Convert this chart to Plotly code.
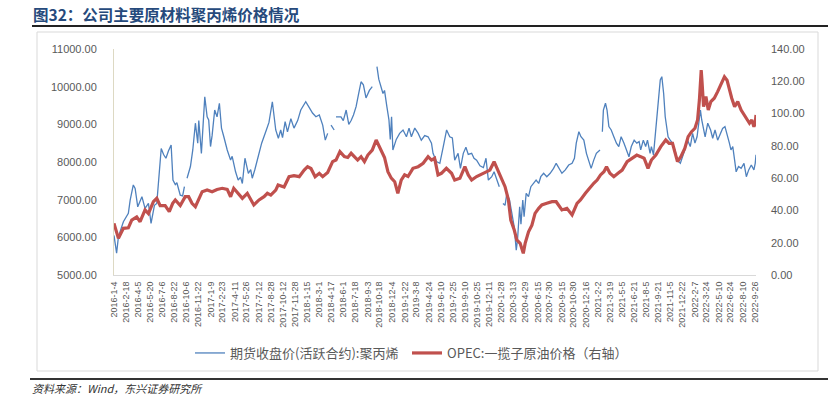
import datetime as dt
import plotly.graph_objects as go

# ---------------- text ----------------
title_text = "图32：公司主要原材料聚丙烯价格情况"
source_text = "资料来源：<i>Wind</i>，东兴证券研究所"
pp_name = "期货收盘价(活跃合约):聚丙烯"
oil_name = "OPEC:一揽子原油价格（右轴）"

# ---------------- x-axis tick labels ----------------
tick_labels = [
    "2016-1-4", "2016-2-18", "2016-4-5", "2016-5-20", "2016-7-6", "2016-8-22", "2016-10-6", "2016-11-22",
    "2017-1-9", "2017-2-23", "2017-4-11", "2017-5-26", "2017-7-12", "2017-8-28", "2017-10-12", "2017-11-28",
    "2018-1-15", "2018-3-1", "2018-4-17", "2018-6-1", "2018-7-18", "2018-9-3", "2018-10-18", "2018-12-4",
    "2019-1-22", "2019-3-8", "2019-4-24", "2019-6-10", "2019-7-25", "2019-9-10", "2019-10-25", "2019-12-11",
    "2020-1-28", "2020-3-13", "2020-4-29", "2020-6-15", "2020-7-30", "2020-9-15", "2020-10-30", "2020-12-16",
    "2021-2-2", "2021-3-19", "2021-5-5", "2021-6-21", "2021-8-5", "2021-9-21", "2021-11-5", "2021-12-22",
    "2022-2-7", "2022-3-24", "2022-5-10", "2022-6-24", "2022-8-10", "2022-9-26",
]
left_ticks = [5000, 6000, 7000, 8000, 9000, 10000, 11000]
right_ticks = [0, 20, 40, 60, 80, 100, 120, 140]

# ---------------- PP futures close (left axis); None = trading gap ----------------
pp_dates = [
    "2016-01-04", "2016-01-14", "2016-01-21", "2016-02-09", "2016-02-28", "2016-03-06", "2016-03-18", "2016-03-25",
    "2016-04-04", "2016-04-20", "2016-05-02", "2016-05-15", "2016-05-25", "2016-06-07", "2016-06-16", "2016-06-23",
    "2016-07-03", "2016-07-12", "2016-07-21", "2016-07-31", "2016-08-10", "2016-08-17", "2016-08-26", "2016-09-01",
    "2016-09-14", "2016-09-23", "2016-09-30", "2016-10-04", "2016-10-10", "2016-10-23", "2016-11-01", "2016-11-11",
    "2016-11-20", "2016-11-24", "2016-12-04", "2016-12-09", "2016-12-17", "2016-12-26", "2017-01-01", "2017-01-08",
    "2017-01-14", "2017-01-24", "2017-02-02", "2017-02-11", "2017-02-19", "2017-02-28", "2017-03-13", "2017-03-26",
    "2017-04-01", "2017-04-14", "2017-04-24", "2017-05-03", "2017-05-10", "2017-05-20", "2017-06-02", "2017-06-11",
    "2017-06-17", "2017-06-27", "2017-07-10", "2017-07-23", "2017-08-10", "2017-08-20", "2017-09-02", "2017-09-15",
    "2017-09-25", "2017-10-04", "2017-10-11", "2017-10-21", "2017-10-30", "2017-11-12", "2017-11-24", "2017-12-08",
    "2017-12-20", "2018-01-08", "2018-01-21", "2018-02-03", "2018-02-16", "2018-03-01", "2018-03-14", "2018-03-24",
    "2018-04-02", "2018-04-05", "2018-04-15", "2018-04-27", "2018-04-30", "2018-05-04", "2018-05-23", "2018-06-01",
    "2018-06-12", "2018-06-22", "2018-07-01", "2018-07-10", "2018-07-20", "2018-07-30", "2018-08-08", "2018-08-17",
    "2018-08-27", "2018-09-09", "2018-09-20", "2018-09-28", "2018-10-08", "2018-10-15", "2018-10-31", "2018-11-06",
    "2018-11-15", "2018-11-23", "2018-11-28", "2018-12-03", "2018-12-08", "2018-12-21", "2019-01-03", "2019-01-16",
    "2019-01-29", "2019-02-08", "2019-02-17", "2019-03-02", "2019-03-15", "2019-03-27", "2019-04-09", "2019-04-22",
    "2019-05-05", "2019-05-11", "2019-05-24", "2019-06-06", "2019-06-19", "2019-07-02", "2019-07-14", "2019-07-24",
    "2019-08-02", "2019-08-15", "2019-08-24", "2019-09-04", "2019-09-14", "2019-09-23", "2019-10-06", "2019-10-15",
    "2019-10-25", "2019-11-07", "2019-11-20", "2019-11-30", "2019-12-09", "2019-12-22", "2019-12-31", "2020-01-10",
    "2020-01-20", "2020-01-25", "2020-02-03", "2020-02-11", "2020-02-18", "2020-02-28", "2020-03-08", "2020-03-17",
    "2020-03-25", "2020-03-30", "2020-04-07", "2020-04-12", "2020-04-19", "2020-04-24", "2020-05-02", "2020-05-11",
    "2020-05-20", "2020-05-30", "2020-06-09", "2020-06-19", "2020-06-27", "2020-07-08", "2020-07-20", "2020-08-02",
    "2020-08-15", "2020-08-25", "2020-09-04", "2020-09-16", "2020-09-29", "2020-10-12", "2020-10-25", "2020-11-03",
    "2020-11-10", "2020-11-20", "2020-11-28", "2020-12-09", "2020-12-19", "2020-12-28", "2021-01-06", "2021-01-16",
    "2021-01-26", "2021-02-09", "2021-02-12", "2021-02-18", "2021-02-22", "2021-03-02", "2021-03-08", "2021-03-15",
    "2021-03-24", "2021-04-03", "2021-04-13", "2021-04-22", "2021-05-01", "2021-05-12", "2021-05-22", "2021-05-31",
    "2021-06-09", "2021-06-20", "2021-06-30", "2021-07-09", "2021-07-15", "2021-07-25", "2021-08-03", "2021-08-10",
    "2021-08-20", "2021-08-25", "2021-09-02", "2021-09-07", "2021-09-15", "2021-09-20", "2021-09-28", "2021-10-04",
    "2021-10-11", "2021-10-17", "2021-10-23", "2021-10-28", "2021-11-05", "2021-11-14", "2021-11-23", "2021-12-03",
    "2021-12-14", "2021-12-23", "2021-12-31", "2022-01-11", "2022-01-21", "2022-01-30", "2022-02-08", "2022-02-16",
    "2022-02-22", "2022-03-01", "2022-03-06", "2022-03-14", "2022-03-19", "2022-03-29", "2022-04-09", "2022-04-17",
    "2022-04-26", "2022-05-06", "2022-05-17", "2022-05-25", "2022-06-03", "2022-06-11", "2022-06-20", "2022-06-26",
    "2022-07-03", "2022-07-10", "2022-07-16", "2022-07-25", "2022-08-04", "2022-08-15", "2022-08-24", "2022-09-02",
    "2022-09-12", "2022-09-22", "2022-09-27", "2022-09-30",
]
pp_values = [
    6050, 5580, 6020, 6415, 6640, 6990, 7390, 7300,
    6810, 7080, 6770, 6900, 6370, 6850, 6900, 7520,
    8360, 8200, 8100, 8300, 8450, 7520, 7400, 7450,
    7120, 7100, 7345, None, 7570, 7880, 8320, 9030,
    8500, 9100, 8230, 8900, 9730, 9200, 9115, 8410,
    8700, 9380, 9200, 9560, 8900, 8670, 8320, 8050,
    8150, 7740, 7520, 7600, 7430, 8100, 7700, 7800,
    7570, 7800, 8140, 8500, 8850, 9050, 9600, 8850,
    8630, 8850, 8650, 9070, 8800, 9150, 8900, 9100,
    9380, 9600, 9450, 9300, 9200, 9250, 8980, 8580,
    8760, None, 8980, 8850, None, 9200, 9200, 9100,
    9380, 9000, 9100, 9250, 9470, 9820, 10130, 10050,
    9700, 9900, 10000, None, 10530, 10200, 9820, 9900,
    9470, 9115, 8600, 9200, 8320, 8600, 8760, 8850,
    8670, 8900, 8670, 8900, 8760, 8580, 8700, 8670,
    8500, 8230, 8010, 7965, 8400, 8850, 8670, 8640,
    8050, 8230, 7830, 8230, 8390, 8200, 8230, 8100,
    8050, 7900, 7850, 8100, 7520, 7610, 7740, 7520,
    7345, None, 6900, 6850, 7170, 6990, 6640, 6280,
    5660, 5950, 6810, 6350, 6990, 6550, 7170, 7080,
    7345, 7430, 7520, 7430, 7610, 7700, 7610, 7700,
    7830, 7965, 7830, 7700, 7790, 7920, 7965, 8100,
    8500, 8805, 8670, 8580, 8230, 8050, 7830, 8050,
    8230, 8320, None, 8805, 9380, 9560, 9380, 8940,
    8850, 8670, 8500, 8410, 8670, 8500, 8320, 8140,
    8410, 8580, 8500, 8540, 8320, 8580, 8410, 8580,
    8230, 8410, 8190, 8580, 9115, 9650, 10180, 10265,
    9820, 9200, 8850, 8670, 8580, 8500, 8320, 8050,
    7965, 8140, 8320, 8580, 8410, 8760, 8500, 8670,
    9030, 9380, 9115, 8850, 8670, 9030, 8850, 8630,
    8850, 8580, 8760, 8890, 8940, 8760, 8500, 8320,
    8410, 8050, 7740, 7880, 7830, 7965, 7610, 7790,
    7920, 7790, 7965, 8190,
]

# ---------------- OPEC basket price (right axis) ----------------
oil_dates = [
    "2016-01-04", "2016-01-21", "2016-02-09", "2016-02-28", "2016-03-12", "2016-03-31", "2016-04-13", "2016-05-02",
    "2016-05-15", "2016-06-03", "2016-06-16", "2016-06-29", "2016-07-18", "2016-08-03", "2016-08-16", "2016-08-26",
    "2016-09-14", "2016-10-03", "2016-10-16", "2016-10-29", "2016-11-11", "2016-11-24", "2016-12-07", "2016-12-26",
    "2017-01-14", "2017-02-02", "2017-02-22", "2017-03-13", "2017-03-26", "2017-04-07", "2017-04-20", "2017-05-10",
    "2017-05-29", "2017-06-11", "2017-06-23", "2017-07-13", "2017-08-01", "2017-08-14", "2017-08-27", "2017-09-15",
    "2017-09-24", "2017-10-17", "2017-11-05", "2017-11-24", "2017-12-14", "2018-01-02", "2018-01-15", "2018-01-28",
    "2018-02-13", "2018-03-01", "2018-03-14", "2018-04-02", "2018-04-21", "2018-05-04", "2018-05-19", "2018-06-05",
    "2018-06-18", "2018-07-01", "2018-07-13", "2018-07-26", "2018-08-08", "2018-08-21", "2018-09-03", "2018-09-20",
    "2018-10-05", "2018-10-18", "2018-11-06", "2018-11-19", "2018-12-02", "2018-12-15", "2018-12-27", "2019-01-09",
    "2019-01-22", "2019-02-04", "2019-02-23", "2019-03-15", "2019-04-03", "2019-04-22", "2019-05-05", "2019-05-17",
    "2019-05-30", "2019-06-12", "2019-07-01", "2019-07-21", "2019-08-02", "2019-08-22", "2019-09-10", "2019-09-23",
    "2019-10-06", "2019-10-25", "2019-11-20", "2019-12-15", "2019-12-31", "2020-01-13", "2020-01-29", "2020-02-11",
    "2020-02-24", "2020-03-04", "2020-03-17", "2020-03-27", "2020-04-09", "2020-04-21", "2020-04-28", "2020-05-11",
    "2020-05-24", "2020-06-05", "2020-06-19", "2020-07-01", "2020-07-20", "2020-08-09", "2020-08-25", "2020-09-07",
    "2020-09-16", "2020-10-05", "2020-10-25", "2020-11-13", "2020-11-26", "2020-12-15", "2021-01-03", "2021-01-16",
    "2021-01-29", "2021-02-11", "2021-02-24", "2021-03-06", "2021-03-19", "2021-04-03", "2021-04-19", "2021-05-05",
    "2021-05-24", "2021-06-13", "2021-06-30", "2021-07-15", "2021-07-28", "2021-08-12", "2021-08-25", "2021-09-11",
    "2021-09-30", "2021-10-19", "2021-11-01", "2021-11-14", "2021-11-23", "2021-12-03", "2021-12-16", "2021-12-31",
    "2022-01-13", "2022-01-26", "2022-02-08", "2022-02-18", "2022-02-25", "2022-03-04", "2022-03-07", "2022-03-13",
    "2022-03-22", "2022-03-31", "2022-04-10", "2022-04-23", "2022-05-06", "2022-05-19", "2022-06-01", "2022-06-11",
    "2022-06-20", "2022-06-29", "2022-07-10", "2022-07-22", "2022-08-04", "2022-08-17", "2022-08-27", "2022-09-05",
    "2022-09-14", "2022-09-22", "2022-09-27", "2022-09-30",
]
oil_values = [
    32.0, 22.7, 28.9, 29.2, 34.0, 36.0, 33.0, 40.3,
    38.0, 45.4, 47.5, 43.0, 43.0, 39.2, 44.4, 46.5,
    43.0, 48.5, 48.5, 44.4, 42.3, 46.5, 51.6, 52.7,
    51.6, 53.0, 53.7, 53.0, 48.5, 53.7, 51.5, 47.5,
    50.6, 46.5, 43.4, 46.5, 48.5, 50.6, 49.5, 52.6,
    55.7, 54.5, 60.9, 61.5, 60.9, 65.0, 67.1, 66.0,
    60.9, 63.0, 60.9, 63.5, 70.2, 71.2, 76.4, 73.3,
    72.8, 75.4, 73.3, 71.2, 73.3, 70.2, 74.3, 77.4,
    83.6, 79.5, 72.8, 64.0, 60.0, 57.8, 50.6, 58.8,
    62.0, 61.0, 66.1, 67.1, 69.2, 73.3, 71.2, 72.3,
    62.0, 63.0, 66.1, 63.0, 58.8, 59.9, 67.1, 62.0,
    58.8, 61.0, 63.0, 65.0, 70.2, 65.0, 58.8, 54.7,
    46.5, 34.0, 28.0, 21.7, 19.6, 13.4, 19.6, 26.8,
    30.9, 38.2, 41.3, 43.4, 44.4, 45.4, 45.4, 42.3,
    40.3, 41.3, 37.2, 44.4, 46.5, 50.6, 54.7, 56.8,
    58.8, 62.0, 64.0, 67.1, 63.0, 60.9, 63.0, 65.0,
    70.2, 72.3, 74.3, 73.3, 72.3, 66.1, 71.2, 74.3,
    79.5, 83.6, 81.5, 81.5, 75.4, 70.2, 73.3, 78.4,
    85.7, 88.8, 90.9, 96.0, 108.4, 127.0, 120.0, 104.3,
    110.5, 102.2, 107.4, 109.5, 113.6, 117.7, 122.8, 120.7,
    114.6, 109.5, 104.3, 107.4, 102.2, 99.1, 97.0, 94.0,
    96.0, 91.9, 94.0, 99.1,
]

# ---------------- figure geometry (pixels) ----------------
W, H = 833, 397
PL, PR, PT, PB = 114, 756, 49, 275  # plot area in pixels


def px_x(px):
    return (px - PL) / (PR - PL)


def px_y(py):
    return (PB - py) / (PB - PT)


tick_vals = [dt.datetime.strptime(s, "%Y-%m-%d") for s in tick_labels]

fig = go.Figure()
fig.add_trace(go.Scatter(
    x=pp_dates, y=pp_values, name=pp_name, mode="lines",
    line=dict(color="#4F81BD", width=1.3), connectgaps=False,
))
fig.add_trace(go.Scatter(
    x=oil_dates, y=oil_values, name=oil_name, mode="lines", yaxis="y2",
    line=dict(color="#C0504D", width=3.2),
))

axis_font = dict(family="Liberation Sans, Arial, sans-serif", size=11, color="#595959")

fig.update_layout(
    template="none",
    width=W, height=H, autosize=False,
    margin=dict(l=PL, r=W - PR, t=PT, b=H - PB, pad=0, autoexpand=False),
    paper_bgcolor="white", plot_bgcolor="white",
    showlegend=True,
    legend=dict(
        orientation="h", x=px_x(190), xanchor="left", y=px_y(338), yanchor="top",
        font=dict(family="Noto Sans CJK SC, sans-serif", size=13, color="#595959"),
        entrywidth=172, entrywidthmode="pixels", bgcolor="rgba(0,0,0,0)",
        itemwidth=30, tracegroupgap=0, borderwidth=0,
    ),
    xaxis=dict(
        type="date", range=["2016-01-04", "2022-09-30"], automargin=False,
        tickvals=tick_vals, ticktext=tick_labels, tickangle=-90,
        tickfont=dict(family="Liberation Sans, Arial, sans-serif", size=9, color="#595959"),
        showgrid=False, zeroline=False, showline=True, linecolor="#D9D9D9", linewidth=1,
        ticks="", ticklabelstandoff=2,
    ),
    yaxis=dict(
        range=[5000, 11000], tickvals=left_ticks, tickformat=".2f", automargin=False,
        tickfont=axis_font, showgrid=False, zeroline=False,
        showline=True, linecolor="#DDD9C3", linewidth=1, ticks="", ticklabelstandoff=14,
    ),
    yaxis2=dict(
        range=[0, 140], tickvals=right_ticks, tickformat=".2f", overlaying="y", side="right",
        automargin=False, tickfont=axis_font, showgrid=False, zeroline=False, showline=False,
        ticks="", ticklabelstandoff=14,
    ),
)

shapes = [
    # chart frame
    dict(type="rect", xref="paper", yref="paper", x0=px_x(37), x1=px_x(818), y0=px_y(371), y1=px_y(32),
         line=dict(color="#D9D9D9", width=1), fillcolor="rgba(0,0,0,0)", layer="below"),
    # line under the title
    dict(type="line", xref="paper", yref="paper", x0=px_x(32), x1=px_x(828), y0=px_y(26), y1=px_y(26),
         line=dict(color="#222222", width=2)),
    # line above the source
    dict(type="line", xref="paper", yref="paper", x0=px_x(30), x1=px_x(828), y0=px_y(379), y1=px_y(379),
         line=dict(color="#333333", width=2)),
]
fig.update_layout(shapes=shapes)

fig.add_annotation(
    text="<b>" + title_text + "</b>", xref="paper", yref="paper", x=px_x(31), y=px_y(14),
    xanchor="left", yanchor="middle", showarrow=False,
    font=dict(family="Noto Sans CJK SC, sans-serif", size=15.5, color="#264A7C"),
)
fig.add_annotation(
    text="<i>" + source_text + "</i>", xref="paper", yref="paper", x=px_x(30), y=px_y(388),
    xanchor="left", yanchor="middle", showarrow=False,
    font=dict(family="Noto Sans CJK SC, sans-serif", size=11, color="#333333"),
)

# remove the browser's default 8px page margin so the figure sits at the window origin
fig.write_html(
    "out.html",
    config={"displayModeBar": False},
    post_script="document.body.style.margin='0';document.body.style.overflow='hidden';",
)
